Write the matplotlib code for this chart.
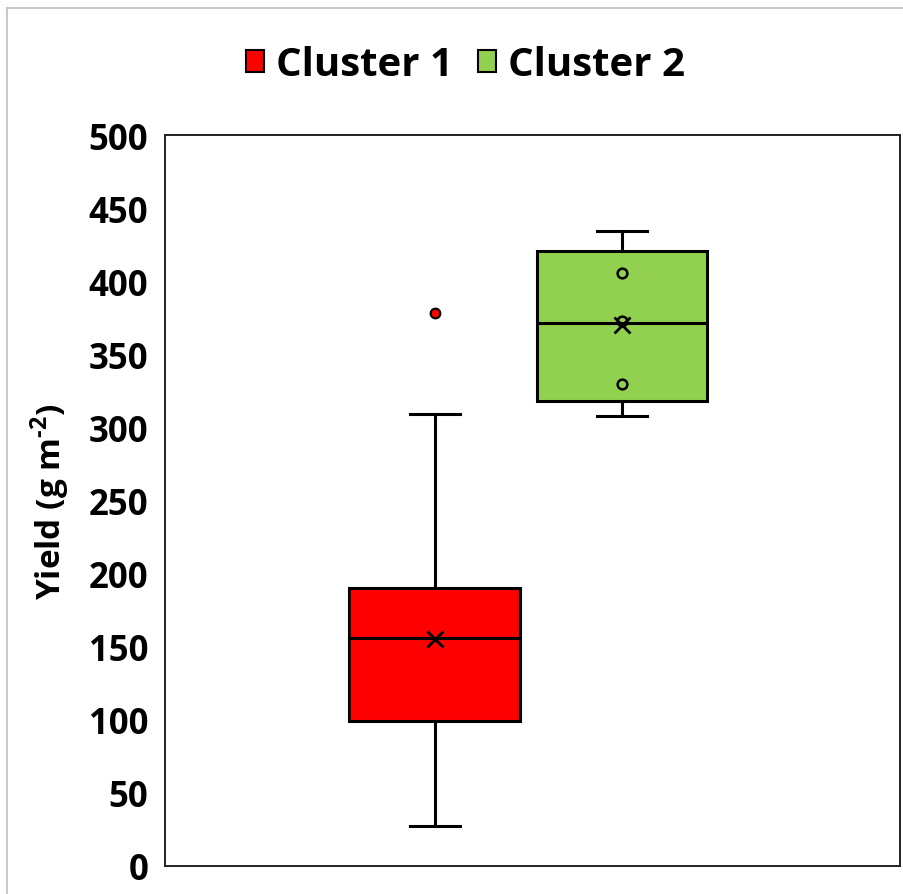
import matplotlib
matplotlib.use("Agg")
import matplotlib.pyplot as plt
from matplotlib.patches import Patch
from matplotlib.lines import Line2D

plt.rcParams['font.family'] = ['Open Sans', 'DejaVu Sans']
plt.rcParams['mathtext.fontset'] = 'custom'
plt.rcParams['mathtext.bf'] = 'Open Sans:bold'
plt.rcParams['mathtext.rm'] = 'Open Sans:bold'

# Box-plot summary per cluster (g m-2)
clusters = ["Cluster 1", "Cluster 2"]
whisker_low = [27.5, 308.0]
q1 = [99.4, 318.3]
median = [156.0, 371.6]
q3 = [190.2, 420.4]
whisker_high = [309.2, 434.5]
mean = [155.3, 370.0]
outliers = [[378.0], []]
inner_points = [[], [405.9, 372.7, 329.5]]
colors = ["#FF0000", "#92D050"]

yticks = [0, 50, 100, 150, 200, 250, 300, 350, 400, 450, 500]

fig = plt.figure(figsize=(9.04, 8.95), dpi=100)
ax = fig.add_axes([165 / 904, 1 - 867 / 895, 735 / 904, 731 / 895])

positions = [0.367, 0.622]
width = 0.232

for i, name in enumerate(clusters):
    stats = [{
        "whislo": whisker_low[i], "q1": q1[i], "med": median[i],
        "q3": q3[i], "whishi": whisker_high[i], "mean": mean[i],
        "fliers": outliers[i], "label": name,
    }]
    ax.bxp(stats, positions=[positions[i]], widths=width, patch_artist=True,
           showmeans=True, meanline=False,
           boxprops=dict(facecolor=colors[i], edgecolor="black", linewidth=2.2),
           medianprops=dict(color="black", linewidth=2.2),
           whiskerprops=dict(color="black", linewidth=2.2),
           capprops=dict(color="black", linewidth=2.2),
           capwidths=0.068,
           meanprops=dict(marker="x", markeredgecolor="black", markersize=11,
                          markeredgewidth=2),
           flierprops=dict(marker="o", markerfacecolor=colors[i],
                           markeredgecolor="black", markersize=7,
                           markeredgewidth=1.5))
    if inner_points[i]:
        ax.plot([positions[i]] * len(inner_points[i]), inner_points[i],
                linestyle="none", marker="o", markerfacecolor="none",
                markeredgecolor="black", markersize=7, markeredgewidth=1.8)

ax.set_xlim(0, 1)
ax.set_ylim(0, 500)
ax.set_yticks(yticks)
ax.set_yticklabels([str(t) for t in yticks], fontsize=25, fontweight="bold")
ax.set_xticks([])
ax.tick_params(axis="y", length=0, pad=12)
for s in ax.spines.values():
    s.set_linewidth(1.4)
    s.set_color("#222222")

ax.set_ylabel(r"Yield (g m$^{\text{-2}}$)", fontsize=24, fontweight="bold",
              labelpad=12)

handles = [Patch(facecolor=c, edgecolor="black", linewidth=1.5) for c in colors]
fig.legend(handles, clusters, loc="center", bbox_to_anchor=(0.515, 1 - 66 / 895),
           ncol=2, frameon=False, prop=dict(size=29, weight="bold"),
           handlelength=0.45, handleheight=0.45, handletextpad=0.3,
           columnspacing=0.6)

# light outer frame (left and top edges)
fig.add_artist(Line2D([7 / 904, 7 / 904], [0, 1 - 9 / 895], transform=fig.transFigure,
                      color="#BFBFBF", linewidth=1.2))
fig.add_artist(Line2D([7 / 904, 1], [1 - 9 / 895, 1 - 9 / 895], transform=fig.transFigure,
                      color="#BFBFBF", linewidth=1.2))

fig.savefig("out.png", dpi=100)
